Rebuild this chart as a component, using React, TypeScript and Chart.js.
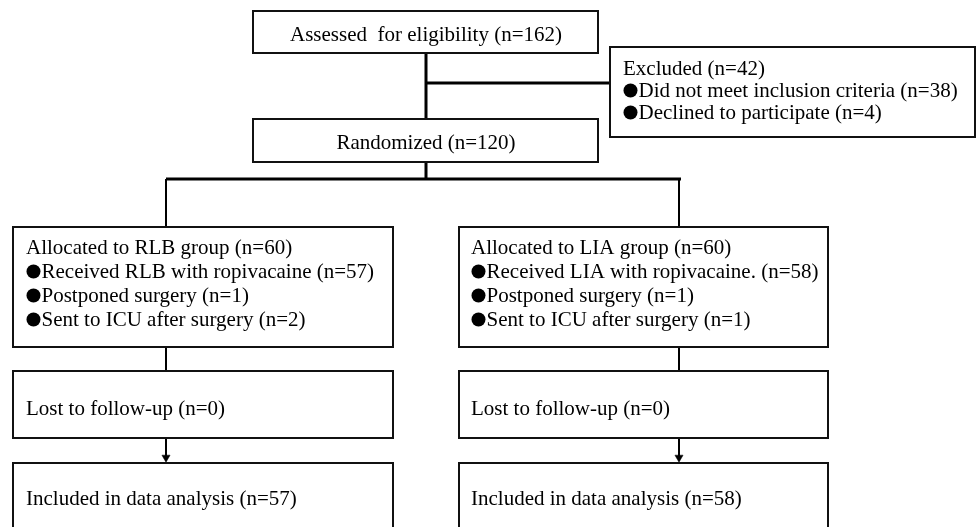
import React, { useEffect, useRef } from "react";
import { Chart, registerables } from "chart.js";

Chart.register(...registerables);

// ---- data (counts of participants) ----
const screenedLabel = ["Assessed  for eligibility"];
const screenedCounts = [162];
const excludedLabels = ["Excluded", "Did not meet inclusion criteria", "Declined to participate"];
const excludedCounts = [42, 38, 4];
const randomizedLabel = ["Randomized"];
const randomizedCounts = [120];
const groupNames = ["RLB", "LIA"];
const allocatedCounts = [60, 60];
const receivedCounts = [57, 58];
const postponedCounts = [1, 1];
const icuCounts = [2, 1];
const lostCounts = [0, 0];
const analysedCounts = [57, 58];

// ---- layout (diagram coordinates, px units on the linear scales) ----
const boxL = [253, 610, 253, 13, 459, 13, 459, 13, 459];
const boxT = [11, 47, 119, 227, 227, 371, 371, 463, 463];
const boxR = [598, 975, 598, 393, 828, 393, 828, 393, 828];
const boxB = [53, 137, 162, 347, 347, 438, 438, 545, 545];

// connector segments
const segX1 = [426, 426, 426, 166, 166, 679, 166, 679, 166, 679];
const segY1 = [53, 83, 162, 179, 179, 179, 347, 347, 438, 438];
const segX2 = [426, 610, 426, 681, 166, 679, 166, 679, 166, 679];
const segY2 = [119, 83, 179, 179, 227, 227, 371, 371, 457, 457];
const segW = [3, 3, 3, 3, 2, 2, 2, 2, 2, 2];
const arrowX = [166, 679];
const arrowY = [457.5, 457.5];

const FONT = '21px "Liberation Serif", "Times New Roman", serif';

type TextItem = { text: string; x: number; y: number; align: CanvasTextAlign; bullet?: boolean };

function buildTexts(): TextItem[] {
  const t: TextItem[] = [];
  t.push({ text: `${screenedLabel[0]} (n=${screenedCounts[0]})`, x: 426, y: 41, align: "center" });
  t.push({ text: `${randomizedLabel[0]} (n=${randomizedCounts[0]})`, x: 426, y: 149, align: "center" });
  t.push({ text: `${excludedLabels[0]} (n=${excludedCounts[0]})`, x: 623, y: 75, align: "left" });
  t.push({ text: `${excludedLabels[1]} (n=${excludedCounts[1]})`, x: 623, y: 97, align: "left", bullet: true });
  t.push({ text: `${excludedLabels[2]} (n=${excludedCounts[2]})`, x: 623, y: 119, align: "left", bullet: true });
  const lefts = [26, 471];
  groupNames.forEach((g, i) => {
    const x = lefts[i];
    t.push({ text: `Allocated to ${g} group (n=${allocatedCounts[i]})`, x, y: 254, align: "left" });
    t.push({
      text: `Received ${g} with ropivacaine${i === 1 ? "." : ""} (n=${receivedCounts[i]})`,
      x, y: 278, align: "left", bullet: true,
    });
    t.push({ text: `Postponed surgery (n=${postponedCounts[i]})`, x, y: 302, align: "left", bullet: true });
    t.push({ text: `Sent to ICU after surgery (n=${icuCounts[i]})`, x, y: 326, align: "left", bullet: true });
    t.push({ text: `Lost to follow-up (n=${lostCounts[i]})`, x, y: 415, align: "left" });
    t.push({ text: `Included in data analysis (n=${analysedCounts[i]})`, x, y: 505, align: "left" });
  });
  return t;
}

export default function App() {
  const ref = useRef<HTMLCanvasElement | null>(null);

  useEffect(() => {
    document.body.style.margin = "0";
    const canvas = ref.current;
    if (!canvas) return;

    const datasets: any[] = [];
    for (let i = 0; i < boxL.length; i++) {
      datasets.push({
        data: [
          { x: boxL[i], y: boxT[i] },
          { x: boxR[i], y: boxT[i] },
          { x: boxR[i], y: boxB[i] },
          { x: boxL[i], y: boxB[i] },
          { x: boxL[i], y: boxT[i] },
        ],
        showLine: true,
        borderColor: "#111",
        borderWidth: 2,
        pointRadius: 0,
        fill: false,
        tension: 0,
        borderJoinStyle: "miter",
        borderCapStyle: "square",
        clip: false,
      });
    }
    for (let i = 0; i < segX1.length; i++) {
      datasets.push({
        data: [
          { x: segX1[i], y: segY1[i] },
          { x: segX2[i], y: segY2[i] },
        ],
        showLine: true,
        borderColor: "#000",
        borderWidth: segW[i],
        pointRadius: 0,
        tension: 0,
        clip: false,
      });
    }
    datasets.push({
      data: arrowX.map((x, i) => ({ x, y: arrowY[i] })),
      showLine: false,
      pointStyle: "triangle",
      pointRadius: 4.7,
      rotation: 180,
      backgroundColor: "#000",
      borderColor: "#000",
      borderWidth: 0.5,
      clip: false,
    });

    const texts = buildTexts();
    const textPlugin = {
      id: "flowText",
      afterDatasetsDraw(chart: any) {
        const ctx = chart.ctx as CanvasRenderingContext2D;
        const xs = chart.scales.x;
        const ys = chart.scales.y;
        ctx.save();
        ctx.fillStyle = "#000";
        ctx.textBaseline = "alphabetic";
        ctx.font = FONT;
        for (const t of texts) {
          const px = xs.getPixelForValue(t.x);
          const py = ys.getPixelForValue(t.y);
          ctx.textAlign = t.align;
          if (t.bullet) {
            ctx.beginPath();
            ctx.arc(px + 7.5, py - 6.5, 7, 0, Math.PI * 2);
            ctx.fill();
            ctx.textAlign = "left";
            ctx.fillText(t.text, px + 15.5, py);
          } else {
            ctx.fillText(t.text, px, py);
          }
        }
        ctx.restore();
      },
    };

    const chart = new Chart(canvas, {
      type: "scatter",
      data: { datasets },
      options: {
        animation: false,
        responsive: false,
        devicePixelRatio: 1,
        layout: { padding: 0, autoPadding: false },
        plugins: { legend: { display: false }, tooltip: { enabled: false } },
        events: [],
        scales: {
          x: { type: "linear", min: 0, max: 976, display: false },
          y: { type: "linear", min: 0, max: 527, reverse: true, display: false },
        },
      },
      plugins: [textPlugin],
    });
    return () => chart.destroy();
  }, []);

  return (
    <div style={{ width: 976, height: 527, background: "#fff" }}>
      <canvas ref={ref} width={976} height={527} style={{ display: "block" }} />
    </div>
  );
}
